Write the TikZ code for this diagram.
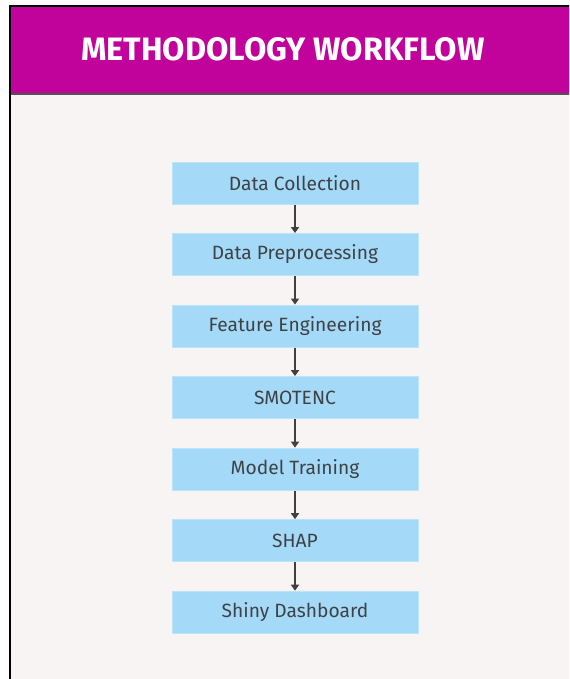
\documentclass[tikz,border=0pt]{standalone}
\usepackage{fontspec}
\setmainfont{Fira Sans}
\usetikzlibrary{positioning,arrows.meta}

\definecolor{headmagenta}{RGB}{193,2,155}
\definecolor{pagebg}{RGB}{248,244,243}
\definecolor{boxblue}{RGB}{164,218,247}
\definecolor{boxedge}{RGB}{186,228,250}
\definecolor{textgrey}{RGB}{62,66,70}
\definecolor{arrowgrey}{RGB}{64,64,64}

\tikzset{
  stepbox/.style={rectangle, fill=boxblue, draw=boxedge, line width=0.75pt,
    minimum width=184.5pt, minimum height=31.5pt, inner sep=0pt,
    text=textgrey, font=\fontsize{14.4}{16}\selectfont},
  flow/.style={line width=1.4pt, arrowgrey, -{Triangle[width=6pt,length=4.5pt]}}
}

\begin{document}
\begin{tikzpicture}[x=0.75pt,y=-0.75pt,node distance=21.4pt]
    \useasboundingbox (0,0) rectangle (569,679);
    \clip (0,0) rectangle (569,679);
    \coordinate (corner) at (10,6);
    \coordinate (far) at (580,690);

    % page and header band
    \fill[pagebg] (corner) rectangle (far);
    \fill[headmagenta] (corner) rectangle (580,94);
    \draw[line width=1.9pt,arrowgrey!90] (10,94) -- (580,94);
    \draw[line width=2.2pt,black] (corner) rectangle (far);
    \node[text=white,font=\fontsize{24.3}{28}\selectfont\bfseries] (title) at (283,49) {METHODOLOGY WORKFLOW};

    % workflow steps
    \node[stepbox] (collect) at (295,183) {Data Collection};
    \node[stepbox,below=of collect] (prep) {Data Preprocessing};
    \node[stepbox,below=of prep] (feat) {Feature Engineering};
    \node[stepbox,below=of feat] (smote) {SMOTENC};
    \node[stepbox,below=of smote] (train) {Model Training};
    \node[stepbox,below=of train] (shap) {SHAP};
    \node[stepbox,below=of shap] (dash) {Shiny Dashboard};

    \draw[flow] (collect) -- (prep);
    \draw[flow] (prep) -- (feat);
    \draw[flow] (feat) -- (smote);
    \draw[flow] (smote) -- (train);
    \draw[flow] (train) -- (shap);
    \draw[flow] (shap) -- (dash);
\end{tikzpicture}
\end{document}
